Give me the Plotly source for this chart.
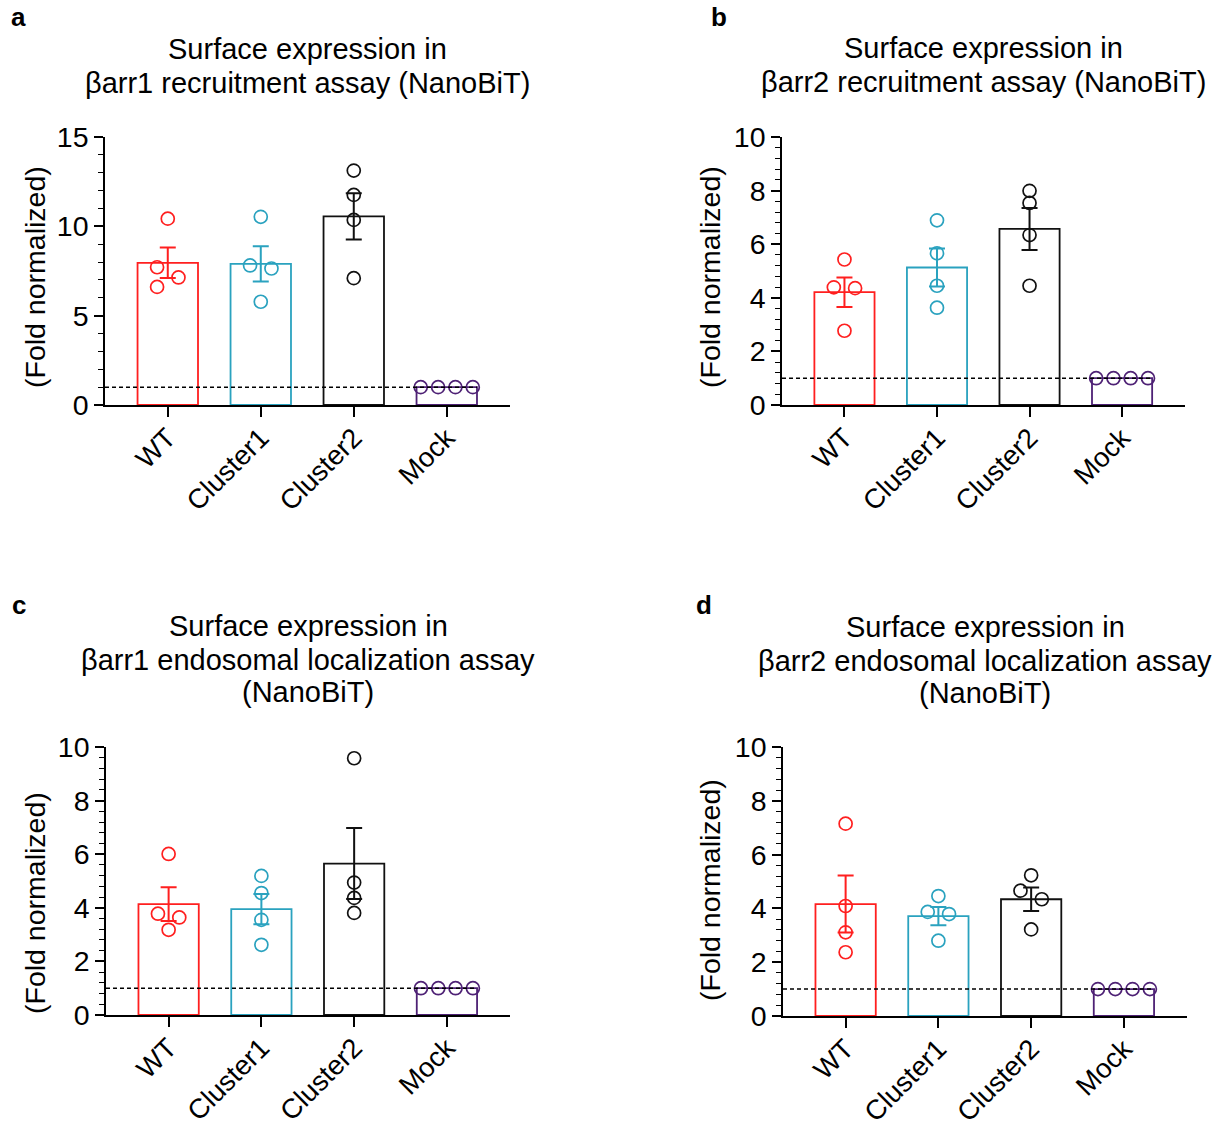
import plotly.graph_objects as go

# ---------------- data ----------------
categories = ["WT", "Cluster1", "Cluster2", "Mock"]

# panel a
a_means = [7.96, 7.90, 10.56, 1.0]
a_sem = [0.85, 0.99, 1.29, 0.0]
a_wt = [10.43, 7.71, 7.14, 6.61]
a_c1 = [10.53, 7.81, 7.64, 5.78]
a_c2 = [13.12, 11.76, 10.36, 7.10]
a_mock = [1.0, 1.0, 1.0, 1.0]

# panel b
b_means = [4.21, 5.13, 6.57, 1.0]
b_sem = [0.55, 0.71, 0.785, 0.0]
b_wt = [5.43, 4.39, 4.36, 2.77]
b_c1 = [6.89, 5.66, 4.45, 3.63]
b_c2 = [7.99, 7.54, 6.34, 4.45]
b_mock = [1.0, 1.0, 1.0, 1.0]

# panel c
c_means = [4.14, 3.95, 5.65, 1.0]
c_sem = [0.63, 0.565, 1.325, 0.0]
c_wt = [6.01, 3.78, 3.64, 3.18]
c_c1 = [5.19, 4.55, 3.55, 2.62]
c_c2 = [9.58, 4.94, 4.37, 3.81]
c_mock = [1.0, 1.0, 1.0, 1.0]

# panel d
d_means = [4.16, 3.71, 4.34, 1.0]
d_sem = [1.06, 0.34, 0.435, 0.0]
d_wt = [7.15, 4.09, 3.11, 2.37]
d_c1 = [4.46, 3.87, 3.79, 2.80]
d_c2 = [5.23, 4.66, 4.34, 3.22]
d_mock = [1.0, 1.0, 1.0, 1.0]

titles = [
    ["Surface expression in", "βarr1 recruitment assay (NanoBiT)"],
    ["Surface expression in", "βarr2 recruitment assay (NanoBiT)"],
    ["Surface expression in", "βarr1 endosomal localization assay", "(NanoBiT)"],
    ["Surface expression in", "βarr2 endosomal localization assay", "(NanoBiT)"],
]
panel_letters = ["a", "b", "c", "d"]
y_title = "(Fold normalized)"

# ---------------- styling / layout ----------------
colors = ["#FF1F1F", "#2AA2BF", "#111111", "#4E2175"]
FONT = "Liberation Sans, Arial, sans-serif"
FS = 28.5
FS_X = 27.5
FS_TITLE = 29

# horizontal scatter offsets of the points (layout only)
J = 0.115
M = [-0.28, -0.093, 0.093, 0.28]
jit = {
    "a": [[0, -J, J, -J], [0, -J, J, 0], [0, 0, 0, 0], M],
    "b": [[0, -J, J, 0], [0, 0, 0, 0], [0, 0, 0, 0], M],
    "c": [[0, -J, J, 0], [0, 0, 0, 0], [0, 0, 0, 0], M],
    "d": [[0, 0, 0, 0], [0, -J, J, 0], [0, -J, J, 0], M],
}

panels = [
    ("a", a_means, a_sem, [a_wt, a_c1, a_c2, a_mock], 15, 5, 1),
    ("b", b_means, b_sem, [b_wt, b_c1, b_c2, b_mock], 10, 2, 0.4),
    ("c", c_means, c_sem, [c_wt, c_c1, c_c2, c_mock], 10, 2, 0.4),
    ("d", d_means, d_sem, [d_wt, d_c1, d_c2, d_mock], 10, 2, 0.4),
]

W, H = 1218, 1129
# screen pixel boxes of plot areas: (x0, x1, ytop, ybottom)
boxes = [(105, 510, 137, 405), (782, 1185, 137, 405), (106, 510, 747, 1015), (783, 1187, 747, 1016)]
title_lines_y = [[49, 83], [48, 82], [626, 660, 692], [627, 661, 693]]
letter_pos = [(18, 17), (719, 17), (19, 605), (704, 605)]
ytitle_pos = [(35, 277), (710, 277), (35, 903), (710, 890)]


def px(x):
    return x / W


def py(y):
    return 1 - y / H


XR = [-0.675, 3.68]
BW = 0.65

fig = go.Figure()
layout_axes = {}
annotations = []
shapes = []

for i, (name, means, sem, pts, ymax, dt, mdt) in enumerate(panels):
    n = "" if i == 0 else str(i + 1)
    xa, ya = "x" + n, "y" + n
    x0, x1, yt, yb = boxes[i]
    xdom = [px(x0), px(x1)]
    ydom = [py(yb), py(yt)]

    # bars
    fig.add_trace(go.Bar(
        x=list(range(4)), y=means, width=BW,
        marker=dict(color="rgba(0,0,0,0)", line=dict(color=colors, width=1.8)),
        xaxis=xa, yaxis=ya, showlegend=False, hoverinfo="skip",
    ))
    # points
    for g in range(4):
        fig.add_trace(go.Scatter(
            x=[g + o for o in jit[name][g]], y=pts[g], mode="markers",
            marker=dict(symbol="circle-open", size=13, color=colors[g], line=dict(width=1.7, color=colors[g])),
            xaxis=xa, yaxis=ya, showlegend=False,
        ))
    # error bars (mean ± SEM)
    for g in range(3):
        fig.add_trace(go.Scatter(
            x=[g], y=[means[g]], mode="markers",
            marker=dict(size=1, color="rgba(0,0,0,0)"),
            error_y=dict(type="data", array=[sem[g]], visible=True, color=colors[g], thickness=2, width=8),
            xaxis=xa, yaxis=ya, showlegend=False, hoverinfo="skip",
        ))

    layout_axes["xaxis" + n] = dict(
        domain=xdom, range=XR, anchor=ya, tickmode="array", tickvals=list(range(4)), ticktext=categories,
        tickangle=-45, showline=True, linecolor="black", linewidth=1.5, ticks="outside", ticklen=10,
        tickwidth=1.5, tickcolor="black", showgrid=False, zeroline=False, automargin=False,
        ticklabelstandoff=-6, tickfont=dict(family=FONT, size=FS_X, color="black"),
    )
    layout_axes["yaxis" + n] = dict(
        domain=ydom, range=[0, ymax], anchor=xa, dtick=dt, tick0=0, showline=True, linecolor="black",
        linewidth=1.5, ticks="outside", ticklen=9, tickwidth=1.5, tickcolor="black", showgrid=False,
        zeroline=False, automargin=False, tickfont=dict(family=FONT, size=FS, color="black"),
        minor=dict(dtick=mdt, tick0=0, ticks="outside", ticklen=5, tickwidth=1.2, tickcolor="black", showgrid=False),
    )

    # dashed reference line at 1
    shapes.append(dict(type="line", xref=xa, yref=ya, x0=XR[0], x1=3 + BW / 2, y0=1, y1=1,
                       line=dict(color="black", width=1.5, dash="4px,3px")))

    # title (one annotation per line)
    for line, ly in zip(titles[i], title_lines_y[i]):
        annotations.append(dict(text=line, xref="paper", yref="paper", x=px((x0 + x1) / 2),
                                y=py(ly), xanchor="center", yanchor="middle", showarrow=False,
                                font=dict(family=FONT, size=FS_TITLE, color="black")))
    # panel letter
    lx, ly = letter_pos[i]
    annotations.append(dict(text="<b>" + panel_letters[i] + "</b>", xref="paper", yref="paper", x=px(lx),
                            y=py(ly), xanchor="center", yanchor="middle", showarrow=False,
                            font=dict(family=FONT, size=26, color="black")))
    # y title
    tx, ty = ytitle_pos[i]
    annotations.append(dict(text=y_title, xref="paper", yref="paper", x=px(tx), y=py(ty),
                            xanchor="center", yanchor="middle", showarrow=False, textangle=-90,
                            font=dict(family=FONT, size=FS, color="black")))

fig.update_layout(
    width=W, height=H, margin=dict(l=0, r=0, t=0, b=0, autoexpand=False),
    paper_bgcolor="white", plot_bgcolor="white", barmode="overlay", hovermode=False,
    annotations=annotations, shapes=shapes, **layout_axes,
)

fig.write_html(
    "out.html",
    config={"displayModeBar": False},
    post_script="document.body.style.margin='0px';document.documentElement.style.overflow='hidden';",
)
